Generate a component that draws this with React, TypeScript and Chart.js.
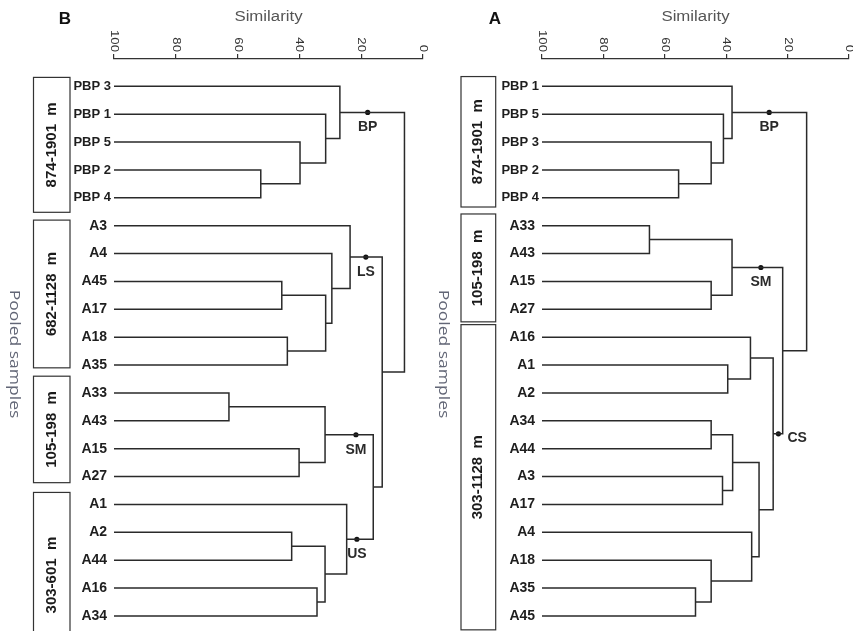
import React, { useEffect, useRef } from 'react';
import { Chart, registerables } from 'chart.js';
Chart.register(...registerables);

// ---------- DATA ----------
const similarityTicks = [100, 80, 60, 40, 20, 0];

// Panel B
const leavesB = ['PBP 3', 'PBP 1', 'PBP 5', 'PBP 2', 'PBP 4', 'A3', 'A4', 'A45', 'A17', 'A18', 'A35', 'A33', 'A43', 'A15', 'A27', 'A1', 'A2', 'A44', 'A16', 'A34'];
// merge k joins node mergeLeft[k] and mergeRight[k] (leaf index < 20, merged node = 20 + k)
const mergeLeftB = [3, 2, 1, 0, 7, 9, 24, 6, 5, 11, 13, 29, 16, 18, 32, 15, 31, 28, 23];
const mergeRightB = [4, 20, 21, 22, 8, 10, 25, 26, 27, 12, 14, 30, 17, 19, 33, 34, 35, 36, 37];
const mergeLevelB = [52.5, 39.8, 31.5, 26.9, 45.7, 43.9, 31.5, 29.5, 23.6, 62.8, 40.1, 31.7, 42.5, 34.3, 31.7, 24.7, 16.1, 13.2, 6.0];
const clusterNamesB = ['BP', 'LS', 'SM', 'US'];
const clusterNodeB = [23, 28, 31, 35];
const clusterLevelB = [17.9, 18.5, 21.7, 21.4];
const groupNamesB = ['874-1901  m', '682-1128  m', '105-198  m', '303-601  m'];

// Panel A
const leavesA = ['PBP 1', 'PBP 5', 'PBP 3', 'PBP 2', 'PBP 4', 'A33', 'A43', 'A15', 'A27', 'A16', 'A1', 'A2', 'A34', 'A44', 'A3', 'A17', 'A4', 'A18', 'A35', 'A45'];
const mergeLeftA = [3, 2, 1, 0, 5, 7, 24, 10, 9, 12, 14, 29, 18, 17, 16, 31, 28, 26, 23];
const mergeRightA = [4, 20, 21, 22, 6, 8, 25, 11, 27, 13, 15, 30, 19, 32, 33, 34, 35, 36, 37];
const mergeLevelA = [55.5, 44.9, 40.9, 38.1, 65.0, 44.9, 38.1, 39.5, 32.1, 44.9, 41.2, 37.9, 50.0, 44.9, 31.7, 29.3, 24.7, 21.6, 13.8];
const clusterNamesA = ['BP', 'SM', 'CS'];
const clusterNodeA = [23, 26, 36];
const clusterLevelA = [26.0, 28.7, 23.0];
const groupNamesA = ['874-1901  m', '105-198  m', '303-1128  m'];

// ---------- LAYOUT / STYLE ----------
const layoutB = {
  letter: 'B', left: 0, width: 430, axisWidth: 114, padRight: 7,
  boxX: 33.5, boxW: 36.5, boxTextX: 52, pooledX: 14, letterX: 65,
  boxSpans: [[-0.32, 4.52], [4.8, 10.1], [10.4, 14.22], [14.57, 20.5]],
  clusterPlace: ['below', 'below', 'below', 'below'],
};
const layoutA = {
  letter: 'A', left: 430, width: 423, axisWidth: 112, padRight: 4,
  boxX: 31, boxW: 34.7, boxTextX: 48, pooledX: 13, letterX: 65,
  boxSpans: [[-0.35, 4.33], [4.58, 8.45], [8.55, 19.5]],
  clusterPlace: ['below', 'below', 'right'],
};

const H = 631;
const AXIS_TOP = 59;
const Y_MIN = -0.98;
const Y_MAX = 19.398;
const LINE = '#2a2a2a';
const FONT = '"Liberation Sans", Arial, sans-serif';

function buildTree(n: number, left: number[], right: number[], level: number[]) {
  const ys: number[] = [];
  const hs: number[] = [];
  for (let i = 0; i < n; i++) { ys[i] = i; hs[i] = 100; }
  left.forEach((a, k) => {
    const b = right[k];
    ys[n + k] = (ys[a] + ys[b]) / 2;
    hs[n + k] = level[k];
  });
  const pts: any[] = [];
  left.forEach((a, k) => {
    const b = right[k];
    const h = level[k];
    pts.push({ x: hs[a], y: ys[a] }, { x: h, y: ys[a] }, { x: h, y: ys[b] }, { x: hs[b], y: ys[b] }, { x: null, y: null });
  });
  return { ys, hs, pts };
}

function Panel({ data, lay }: any) {
  const ref = useRef<HTMLCanvasElement | null>(null);
  useEffect(() => {
    const leaves: string[] = data.leaves;
    const tree = buildTree(leaves.length, data.mergeLeft, data.mergeRight, data.mergeLevel);
    const dots = data.clusterNode.map((node: number, i: number) => ({ x: data.clusterLevel[i], y: tree.ys[node] }));

    const decor = {
      id: 'decor',
      afterDraw(chart: any) {
        const { ctx, chartArea, scales } = chart;
        const x = scales.x;
        const y = scales.y;
        ctx.save();
        // rotated tick labels
        ctx.fillStyle = '#333';
        ctx.font = `11px ${FONT}`;
        x.ticks.forEach((t: any) => {
          const px = x.getPixelForValue(t.value);
          ctx.save();
          ctx.translate(px, chartArea.top - 7);
          ctx.rotate(Math.PI / 2);
          ctx.scale(1.2, 1);
          ctx.textAlign = 'right';
          ctx.textBaseline = 'middle';
          ctx.fillText(String(t.value), 0, 0);
          ctx.restore();
        });
        // axis title
        ctx.save();
        ctx.fillStyle = '#555';
        ctx.font = `14px ${FONT}`;
        ctx.translate((chartArea.left + chartArea.right) / 2, 17);
        ctx.scale(1.2, 1);
        ctx.textAlign = 'center';
        ctx.textBaseline = 'middle';
        ctx.fillText('Similarity', 0, 0);
        ctx.restore();
        // panel letter
        ctx.fillStyle = '#111';
        ctx.font = `bold 17px ${FONT}`;
        ctx.textAlign = 'center';
        ctx.textBaseline = 'middle';
        ctx.fillText(lay.letter, lay.letterX, 19);
        // group boxes
        ctx.strokeStyle = '#333';
        ctx.lineWidth = 1.2;
        data.groupNames.forEach((name: string, i: number) => {
          const [a, b] = lay.boxSpans[i];
          const top = y.getPixelForValue(a);
          const bot = y.getPixelForValue(b);
          ctx.strokeRect(lay.boxX, top, lay.boxW, bot - top);
          ctx.save();
          ctx.translate(lay.boxTextX, (top + bot) / 2);
          ctx.rotate(-Math.PI / 2);
          ctx.fillStyle = '#1a1a1a';
          ctx.font = `bold 15px ${FONT}`;
          ctx.textAlign = 'center';
          ctx.textBaseline = 'middle';
          ctx.fillText(name, 0, 0);
          ctx.restore();
        });
        // pooled samples
        ctx.save();
        ctx.translate(lay.pooledX, 354);
        ctx.rotate(Math.PI / 2);
        ctx.scale(1.25, 1);
        ctx.fillStyle = '#626676';
        ctx.font = `14px "Open Sans", ${FONT}`;
        ctx.textAlign = 'center';
        ctx.textBaseline = 'middle';
        ctx.fillText('Pooled samples', 0, 0);
        ctx.restore();
        // cluster labels
        const meta = chart.getDatasetMeta(1);
        ctx.fillStyle = '#2a2a2a';
        ctx.font = `bold 14px ${FONT}`;
        data.clusterNames.forEach((name: string, i: number) => {
          const p = meta.data[i];
          if (!p) return;
          if (lay.clusterPlace[i] === 'right') {
            ctx.textAlign = 'left';
            ctx.textBaseline = 'middle';
            ctx.fillText(name, p.x + 9, p.y + 4);
          } else {
            ctx.textAlign = 'center';
            ctx.textBaseline = 'middle';
            ctx.fillText(name, p.x, p.y + 15);
          }
        });
        ctx.restore();
      },
    };

    const chart = new Chart(ref.current as HTMLCanvasElement, {
      type: 'scatter',
      data: {
        datasets: [
          {
            data: tree.pts,
            showLine: true,
            spanGaps: false,
            borderColor: LINE,
            borderWidth: 1.5,
            pointRadius: 0,
            pointHoverRadius: 0,
            clip: false as any,
            borderJoinStyle: 'miter',
          } as any,
          {
            data: dots,
            showLine: false,
            pointRadius: 2.6,
            pointBackgroundColor: '#111',
            pointBorderColor: '#111',
            pointBorderWidth: 0,
            clip: false as any,
          } as any,
        ],
      },
      options: {
        responsive: false,
        animation: false,
        devicePixelRatio: 1,
        layout: { padding: { left: 0, right: lay.padRight, top: 0, bottom: 0 } },
        plugins: { legend: { display: false }, tooltip: { enabled: false } },
        events: [],
        scales: {
          x: {
            type: 'linear',
            position: 'top',
            reverse: true,
            min: 0,
            max: 100,
            afterBuildTicks: (s: any) => { s.ticks = similarityTicks.map((v) => ({ value: v })); },
            ticks: { display: false },
            grid: { drawOnChartArea: false, drawTicks: true, tickLength: 5, color: '#333', lineWidth: 1.2 },
            border: { display: true, color: '#333', width: 1.2 },
            afterFit: (s: any) => { s.height = AXIS_TOP; s.paddingLeft = 0; s.paddingRight = 0; },
          },
          y: {
            type: 'linear',
            reverse: true,
            min: Y_MIN,
            max: Y_MAX,
            afterBuildTicks: (s: any) => { s.ticks = leaves.map((_, i) => ({ value: i })); },
            ticks: {
              padding: 3,
              color: '#1e1e1e',
              autoSkip: false,
              callback: (v: any) => {
                const l = leaves[Math.round(v)] || '';
                return l.startsWith('PBP') ? l : l + ' ';
              },
              font: (c: any) => {
                const l = c.tick ? leaves[Math.round(c.tick.value)] || '' : '';
                return { family: FONT, weight: 'bold', size: l.startsWith('PBP') ? 13 : 14 };
              },
            },
            grid: { display: false, drawTicks: false, tickLength: 0 },
            border: { display: false },
            afterFit: (s: any) => { s.width = lay.axisWidth; s.paddingTop = 0; s.paddingBottom = 0; },
          },
        },
      } as any,
      plugins: [decor],
    });
    return () => chart.destroy();
  }, []);
  return (
    <canvas
      ref={ref}
      width={lay.width}
      height={H}
      style={{ position: 'absolute', left: lay.left, top: 0, width: lay.width, height: H }}
    />
  );
}

const dataB = {
  leaves: leavesB, mergeLeft: mergeLeftB, mergeRight: mergeRightB, mergeLevel: mergeLevelB,
  clusterNames: clusterNamesB, clusterNode: clusterNodeB, clusterLevel: clusterLevelB, groupNames: groupNamesB,
};
const dataA = {
  leaves: leavesA, mergeLeft: mergeLeftA, mergeRight: mergeRightA, mergeLevel: mergeLevelA,
  clusterNames: clusterNamesA, clusterNode: clusterNodeA, clusterLevel: clusterLevelA, groupNames: groupNamesA,
};

export default function App() {
  return (
    <div style={{ position: 'absolute', left: 0, top: 0, width: 853, height: H, background: '#fff', overflow: 'hidden' }}>
      <Panel data={dataB} lay={layoutB} />
      <Panel data={dataA} lay={layoutA} />
    </div>
  );
}
